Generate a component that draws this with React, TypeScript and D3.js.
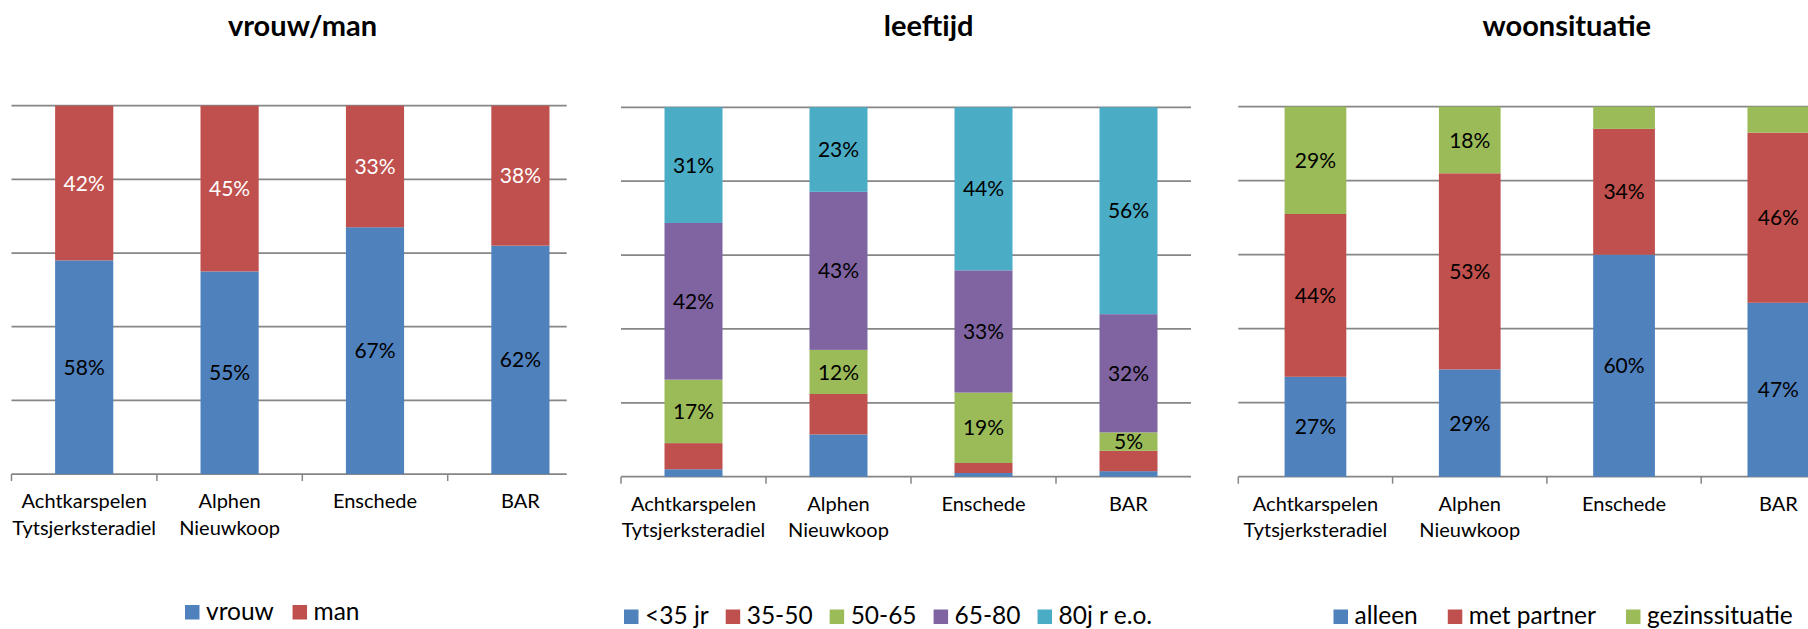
import { useMemo } from "react";
import * as d3 from "d3";

const WIDTH = 1808;
const HEIGHT = 629;
const FONT = "Lato, 'Open Sans', sans-serif";

// categorieën (x-as)
const gemeenten = ["Achtkarspelen\nTytsjerksteradiel", "Alphen\nNieuwkoop", "Enschede", "BAR"];

// vrouw/man
const vrouw = [58, 55, 67, 62];
const man = [42, 45, 33, 38];

// leeftijd
const jonger35 = [2, 11.5, 1, 1.5];
const van35tot50 = [7, 11, 2.7, 5.5];
const van50tot65 = [17, 12, 19, 5];
const van65tot80 = [42, 43, 33, 32];
const ouder80 = [31, 23, 44, 56];

// woonsituatie
const alleen = [27, 29, 60, 47];
const metPartner = [44, 53, 34, 46];
const gezinssituatie = [29, 18, 6, 7];
// welke labels staan er in het origineel (null = geen label)
const gezinsLabels = [29, 18, null, null];

const COLORS = {
    blue: "#4F81BD",
    red: "#C0504D",
    green: "#9BBB59",
    purple: "#8064A2",
    aqua: "#4BACC6",
};

type Serie = {
    name: string;
    values: number[];
    color: string;
    labels: (number | null)[] | null;
    labelColor: string;
};

type PanelLayout = {
    title: string;
    titleX: number;
    x0: number;
    step: number;
    axisEnd: number;
    yTop: number;
    yBase: number;
    legendX: number;
    legendBaseline: number;
    legendGap: number;
};

const TITLE_SIZE = 29;
const CAT_SIZE = 20;
const LABEL_SIZE = 21;
const LEGEND_SIZE = 24.5;
const GRID = "#868686";

let ctx: CanvasRenderingContext2D | null = null;
const textWidth = (txt: string, size: number) => {
    if (!ctx) ctx = document.createElement("canvas").getContext("2d");
    if (!ctx) return txt.length * size * 0.5;
    ctx.font = `${size}px Lato`;
    return ctx.measureText(txt).width;
};

const Panel = ({ layout, series }: { layout: PanelLayout; series: Serie[] }) => {
    const { x0, step, axisEnd, yTop, yBase } = layout;

    const xScale = useMemo(
        () => d3.scaleBand<string>().domain(gemeenten).range([x0, x0 + step * gemeenten.length]).padding(0),
        [x0, step]
    );
    const yScale = useMemo(() => d3.scaleLinear().domain([0, 1]).range([yBase, yTop]), [yBase, yTop]);

    const rows = gemeenten.map((g, i) => {
        const row: Record<string, number> = {};
        series.forEach((s) => (row[s.name] = s.values[i]));
        return row;
    });
    const stacked = d3
        .stack<Record<string, number>>()
        .keys(series.map((s) => s.name))
        .offset(d3.stackOffsetExpand)(rows);

    const barW = xScale.bandwidth() * 0.4;

    // legend
    let lx = layout.legendX;
    const legendItems = series.map((s) => {
        const item = { x: lx, s };
        lx += 15 + 6 + textWidth(s.name, LEGEND_SIZE) + layout.legendGap;
        return item;
    });

    return (
        <g>
            <text x={layout.titleX} y={36} textAnchor="middle" fontFamily={FONT} fontWeight={700} fontSize={TITLE_SIZE} fill="#000">
                {layout.title}
            </text>

            {/* gridlines */}
            {yScale.ticks(5).map((t) => (
                <line key={t} x1={x0} x2={axisEnd} y1={yScale(t)} y2={yScale(t)} stroke={GRID} strokeWidth={1.75} />
            ))}

            {/* bars */}
            {stacked.map((layer, k) =>
                layer.map((d, i) => {
                    const x = (xScale(gemeenten[i]) ?? 0) + (xScale.bandwidth() - barW) / 2;
                    return (
                        <rect
                            key={`${k}-${i}`}
                            x={x}
                            width={barW}
                            y={yScale(d[1])}
                            height={yScale(d[0]) - yScale(d[1])}
                            fill={series[k].color}
                        />
                    );
                })
            )}

            {/* axis ticks */}
            {gemeenten.map((g) => (
                <line key={g} x1={xScale(g)} x2={xScale(g)} y1={yBase} y2={yBase + 7} stroke={GRID} strokeWidth={1.5} />
            ))}

            {/* data labels */}
            {stacked.map((layer, k) =>
                layer.map((d, i) => {
                    const labels = series[k].labels;
                    if (!labels || labels[i] == null) return null;
                    const cx = (xScale(gemeenten[i]) ?? 0) + xScale.bandwidth() / 2;
                    const cy = (yScale(d[0]) + yScale(d[1])) / 2;
                    return (
                        <text
                            key={`l${k}-${i}`}
                            x={cx}
                            y={cy}
                            dy="0.36em"
                            textAnchor="middle"
                            fontFamily={FONT}
                            fontSize={LABEL_SIZE}
                            fill={series[k].labelColor}
                        >
                            {`${labels[i]}%`}
                        </text>
                    );
                })
            )}

            {/* category labels */}
            {gemeenten.map((g) => (
                <text key={g} textAnchor="middle" fontFamily={FONT} fontSize={CAT_SIZE} fill="#000">
                    {g.split("\n").map((line, j) => (
                        <tspan key={j} x={(xScale(g) ?? 0) + xScale.bandwidth() / 2} y={yBase + 34 + j * 26.7}>
                            {line}
                        </tspan>
                    ))}
                </text>
            ))}

            {/* legend */}
            {legendItems.map(({ x, s }) => (
                <g key={s.name}>
                    <rect x={x} y={layout.legendBaseline - 14.5} width={14.5} height={14.5} fill={s.color} />
                    <text x={x + 21} y={layout.legendBaseline} fontFamily={FONT} fontSize={LEGEND_SIZE} fill="#000">
                        {s.name}
                    </text>
                </g>
            ))}
        </g>
    );
};

const geslachtLayout: PanelLayout = {
    title: "vrouw/man",
    titleX: 302.5,
    x0: 11.5,
    step: 145.4,
    axisEnd: 566.7,
    yTop: 105.7,
    yBase: 474,
    legendX: 185,
    legendBaseline: 619.5,
    legendGap: 18.7,
};

const leeftijdLayout: PanelLayout = {
    title: "leeftijd",
    titleX: 928.7,
    x0: 621,
    step: 145,
    axisEnd: 1191,
    yTop: 107.3,
    yBase: 476.7,
    legendX: 624,
    legendBaseline: 624,
    legendGap: 17,
};

const woonLayout: PanelLayout = {
    title: "woonsituatie",
    titleX: 1566.8,
    x0: 1238.3,
    step: 154.3,
    axisEnd: 1860,
    yTop: 106.7,
    yBase: 476.7,
    legendX: 1333.5,
    legendBaseline: 624,
    legendGap: 30,
};

export default function App() {
    const geslacht: Serie[] = [
        { name: "vrouw", values: vrouw, color: COLORS.blue, labels: vrouw, labelColor: "#000" },
        { name: "man", values: man, color: COLORS.red, labels: man, labelColor: "#fff" },
    ];
    const leeftijd: Serie[] = [
        { name: "<35 jr", values: jonger35, color: COLORS.blue, labels: null, labelColor: "#000" },
        { name: "35-50", values: van35tot50, color: COLORS.red, labels: null, labelColor: "#000" },
        { name: "50-65", values: van50tot65, color: COLORS.green, labels: van50tot65, labelColor: "#000" },
        { name: "65-80", values: van65tot80, color: COLORS.purple, labels: van65tot80, labelColor: "#000" },
        { name: "80j r e.o.", values: ouder80, color: COLORS.aqua, labels: ouder80, labelColor: "#000" },
    ];
    const woon: Serie[] = [
        { name: "alleen", values: alleen, color: COLORS.blue, labels: alleen, labelColor: "#000" },
        { name: "met partner", values: metPartner, color: COLORS.red, labels: metPartner, labelColor: "#000" },
        { name: "gezinssituatie", values: gezinssituatie, color: COLORS.green, labels: gezinsLabels, labelColor: "#000" },
    ];

    return (
        <svg
            width={WIDTH}
            height={HEIGHT}
            viewBox={`0 0 ${WIDTH} ${HEIGHT}`}
            style={{ position: "absolute", left: 0, top: 0, background: "#fff" }}
        >
            <Panel layout={geslachtLayout} series={geslacht} />
            <Panel layout={leeftijdLayout} series={leeftijd} />
            <Panel layout={woonLayout} series={woon} />
        </svg>
    );
}
